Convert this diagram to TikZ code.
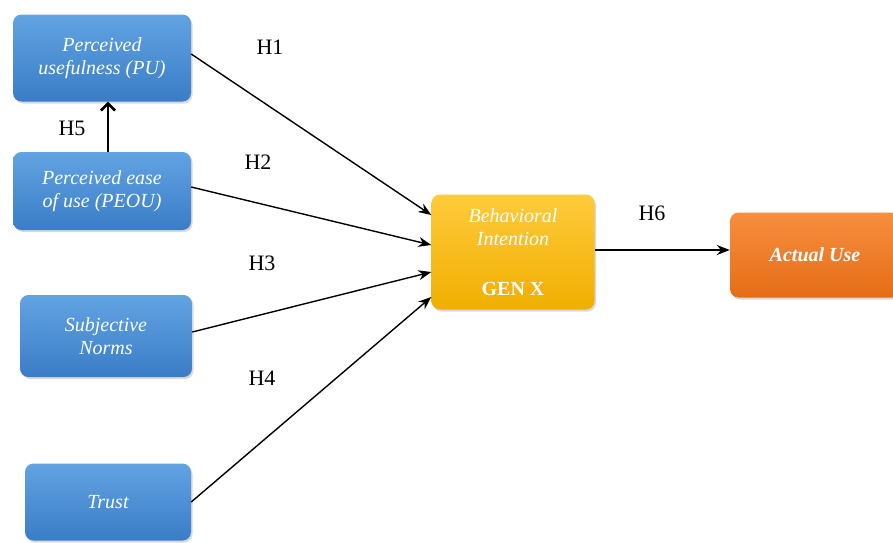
\documentclass[tikz,border=0pt]{standalone}
\usepackage{fontspec}
\usepackage{tikz}
\usepackage{xcolor}
\usetikzlibrary{arrows.meta, calc, positioning, shadows}
\setmainfont{Liberation Serif}
\definecolor{boxtop}{HTML}{62A3E2}
\definecolor{boxbot}{HTML}{3A7DC6}
\definecolor{bitop}{HTML}{FFCB3C}
\definecolor{bibot}{HTML}{F0AE00}
\definecolor{autop}{HTML}{F68F3F}
\definecolor{aubot}{HTML}{E66C16}

\begin{document}
\begin{tikzpicture}[
        x=1pt, y=-1pt,
        box/.style={rounded corners=3mm, align=center, text=white,
            font=\fontsize{20}{23}\selectfont\itshape,
            top color=boxtop, bottom color=boxbot, draw=none,
            drop shadow={opacity=0.3, shadow xshift=1.5pt, shadow yshift=-2pt}},
        hyp/.style={font=\fontsize{22}{24}\selectfont},
        link/.style={->, line width=1.4pt},
        >={Stealth[length=13pt, width=10pt]}
    ]
        \useasboundingbox (0,0) rectangle (893,542);

        \node[box, minimum width=178pt, minimum height=87pt] (pu) at (102,58) {Perceived\\usefulness (PU)};
        \node[box, minimum width=178pt, minimum height=78pt] (peou) at (102,191) {Perceived ease\\of use (PEOU)};
        \node[box, minimum width=172pt, minimum height=82pt] (sn) at (106,336) {Subjective\\Norms};
        \node[box, minimum width=166pt, minimum height=77pt] (trust) at (108,502) {Trust};
        \node[box, top color=bitop, bottom color=bibot, minimum width=163pt, minimum height=115pt] (bi) at (513,252)
            {Behavioral\\Intention\\[27pt]{\upshape\bfseries GEN X}};
        \node[box, top color=autop, bottom color=aubot, minimum width=170pt, minimum height=85pt] (au) at (815,255)
            {\bfseries Actual Use};

        \node[hyp] (h1) at (270,47) {H1};
        \node[hyp] (h2) at (258,162) {H2};
        \node[hyp] (h3) at (262,263) {H3};
        \node[hyp] (h4) at (262,378) {H4};
        \node[hyp] (h5) at (72,128) {H5};
        \node[hyp] (h6) at (652,213) {H6};

        \draw[link] ([yshift=4pt]pu.east) -- ([yshift=37pt]bi.west);
        \draw[link] ([yshift=4pt]peou.east) -- ([yshift=7pt]bi.west);
        \draw[link] ([yshift=4pt]sn.east) -- ([yshift=-20pt]bi.west);
        \draw[link] (trust.east) -- ([yshift=-45pt]bi.west);
        \draw[-{Straight Barb[length=7pt, width=14pt]}, line width=2.6pt] ([xshift=6pt]peou.north) -- ([xshift=6pt]pu.south);
        \draw[link] ([yshift=2pt]bi.east) -- ([yshift=2pt]bi.east -| au.west);
    \end{tikzpicture}
\end{document}
